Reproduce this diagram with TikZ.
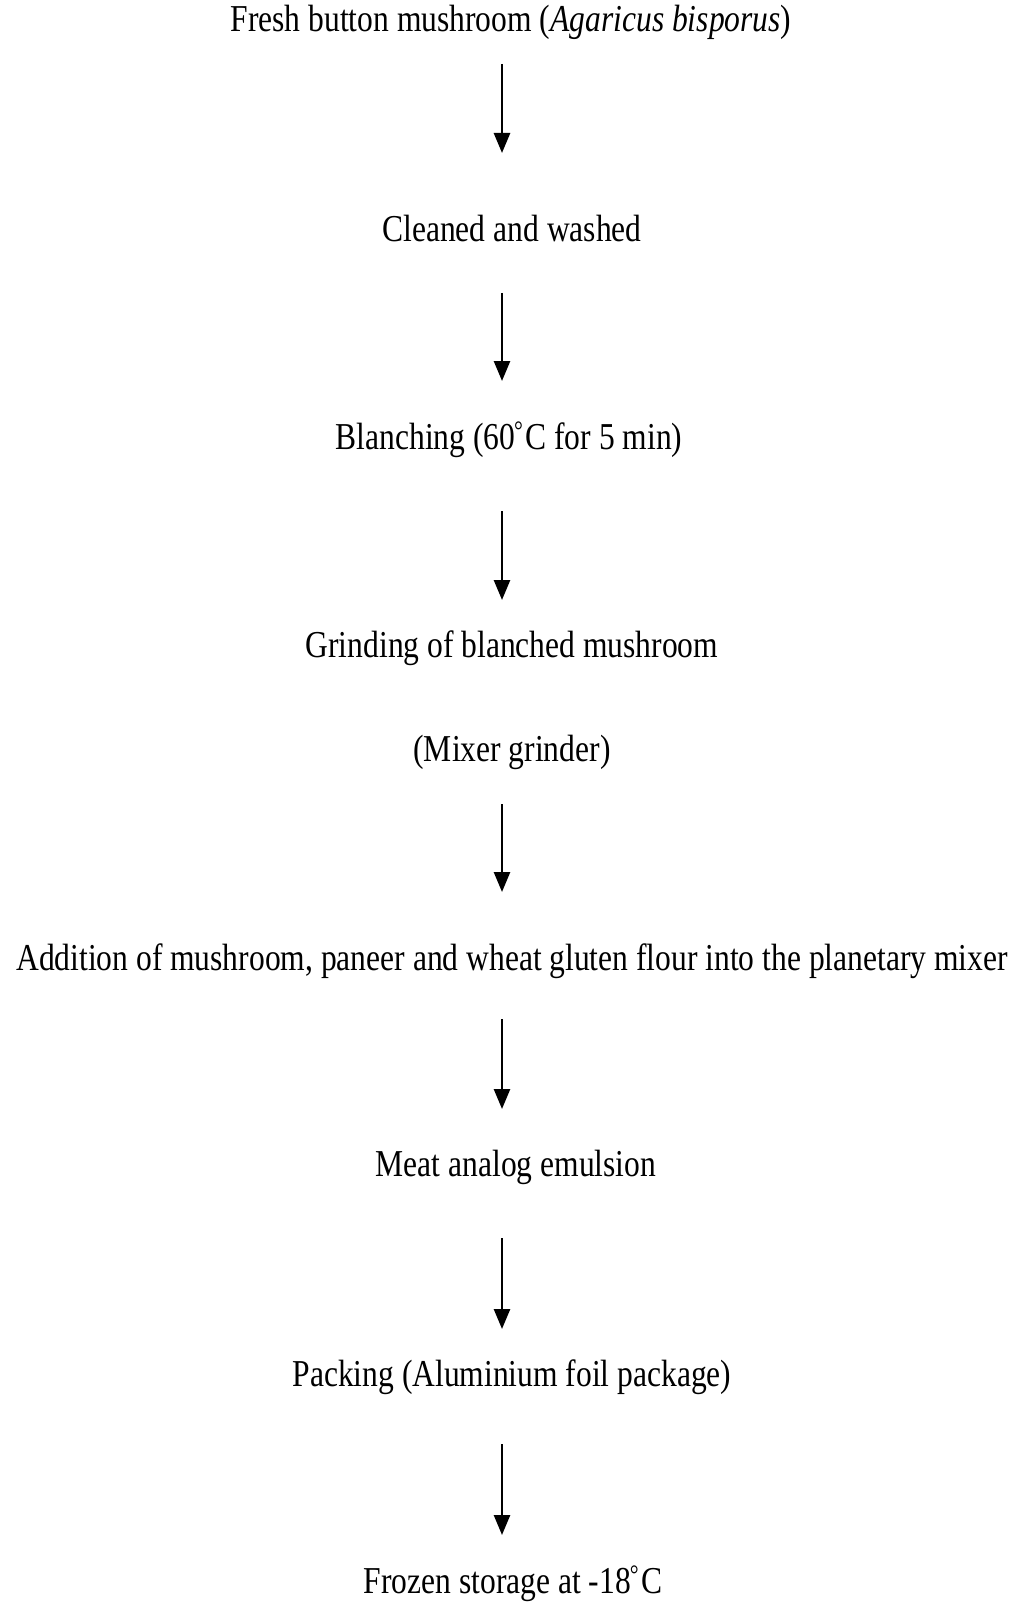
\documentclass[tikz,border=0pt]{standalone}
\usepackage{fontspec}
\setmainfont[FakeStretch=0.83]{Liberation Serif}
\usetikzlibrary{arrows.meta}
\newcommand{\degsym}{\kern-1pt\textsuperscript{°}\kern2pt}
\begin{document}
\begin{tikzpicture}[x=1pt,y=-1pt,
  stepnode/.style={anchor=base,inner sep=0pt,font=\fontsize{38}{44}\selectfont},
  flow/.style={line width=2.6pt,-{Triangle[length=20pt,width=16pt]}}]
\useasboundingbox (0,0) rectangle (1021,1602);
\node[stepnode] (n1) at (511,32) {Fresh button mushroom (\textit{Agaricus bisporus})};
\node[stepnode] (n2) at (512,242) {Cleaned and washed};
\node[stepnode] (n3) at (509,449) {Blanching (60\degsym C for 5 min)};
\node[stepnode] (n4) at (512,657) {Grinding of blanched mushroom};
\node[stepnode] (n5) at (512,761) {(Mixer grinder)};
\node[stepnode] (n6) at (512,970) {Addition of mushroom, paneer and wheat gluten flour into the planetary mixer};
\node[stepnode] (n7) at (516,1176) {Meat analog emulsion};
\node[stepnode] (n8) at (512,1386) {Packing (Aluminium foil package)};
\node[stepnode] (n9) at (513,1593) {Frozen storage at -18\degsym C};
\coordinate (a1s) at (502,64);   \coordinate (a1e) at (502,153);
\coordinate (a2s) at (502,293);  \coordinate (a2e) at (502,381);
\coordinate (a3s) at (502,511);  \coordinate (a3e) at (502,600);
\coordinate (a4s) at (502,804);  \coordinate (a4e) at (502,892);
\coordinate (a5s) at (502,1019); \coordinate (a5e) at (502,1109);
\coordinate (a6s) at (502,1238); \coordinate (a6e) at (502,1329);
\coordinate (a7s) at (502,1444); \coordinate (a7e) at (502,1535);
\draw[flow] (a1s) -- (a1e);
\draw[flow] (a2s) -- (a2e);
\draw[flow] (a3s) -- (a3e);
\draw[flow] (a4s) -- (a4e);
\draw[flow] (a5s) -- (a5e);
\draw[flow] (a6s) -- (a6e);
\draw[flow] (a7s) -- (a7e);
\end{tikzpicture}
\end{document}
